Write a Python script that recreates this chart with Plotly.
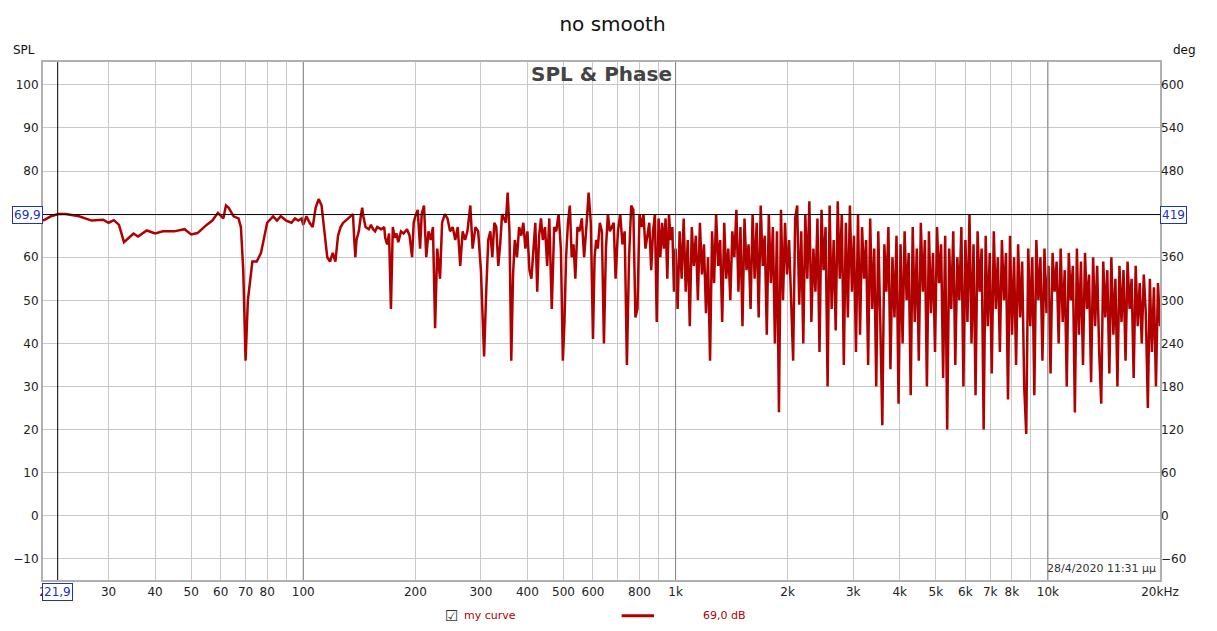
import numpy as np
import plotly.graph_objects as go

# Low/mid frequency part (Hz, dB)
freq_low = [20,21,22,23,25,27,29,30,31,32,33,35,36,38,40,42,45,48,50,52,55,57,59,61,62,63,65,67,68,69,70,71,73,75,77,80,83,85,87,90,93,95,97,99,100,102,104,106,108,110,112,114,116,118,120,122,124,126,128,130,132,134,136,137,138,139,141,143,144,145,147,150,152,154,156,158,162,165,166,168,170,172,174,176,178,180,183,186,190,193,196,198]
spl_low = [68.5,69.5,70,70,69.5,68.5,68.7,68,68.6,67.5,63.5,65.5,64.8,66.2,65.5,66,66,66.5,65.3,65.6,67.5,68.5,70.3,69,72,71.5,69.5,69,67,57,36,50,59,59,61,68,69.5,68.5,69.5,68.5,68,69,68.5,69,67.5,69.5,68,67,71.5,73.5,72,66,60,59,61,59,65,67,68,68.5,69,69.5,70,64.5,60,64,66,70,71.5,69.5,67,66.5,67.5,66.5,66,67,66.5,67,64.5,63,65.5,48,67,64.5,65.5,63.5,66,65.5,66.5,65,60,68]

freq_mid = [200,203,206,208,211,214,217,220,223,226,229,233,236,240,244,248,252,256,260,264,268,272,276,281,285,290,295,300,303,306,310,314,318,322,326,330,334,338,342,346,350,354,358,362,366,370,375,380,385,390,395,400,405,410,415,420,425,430,435,440,446,452,458,465,472,478,485,492,498,503,508,514,520,526,532,538,545,552,560,568,576,584,592,600,606,612,618,626,634,642,650,658,666,674,682,690,700,710,720,730,740,750,760,770,780,790,800,810,820,830,840,850,860,870,880,890,900,910,920,930,940,950,960,970,980,990]
spl_mid = [69.5,71,62,70,72,60,66,64,67,43.5,62,55,68,70,69,66,67,64,67,58,66,64,66,72,62,67,66,57,45,37,52,64,66,60,68,67,58,63,70,69,68,75,66,36,56,64,60,67,65,68,62,66,57,55,62,68,52,65,69,64,67,58,69,48,67,66,70,62,36,45,60,68,72,60,63,55,67,66,69,60,67,75,68,41,60,64,62,68,66,40,62,70,66,67,68,55,66,70,63,66,35,60,72,71,46,48,70,67,70,62,65,68,57,66,70,45,69,60,68,62,69,55,70,64,67,52]

# High frequency part: SPL readings on a log-spaced grid 1 kHz .. 20 kHz
spl_high = [62,48,66,55,69,52,64,44,67,58,
            65,50,68,56,63,47,60,36,66,54,
            70,58,64,45,68,55,62,50,66,60,
            71,52,67,44,69,57,63,48,70,55,
            68,46,72,58,65,42,70,54,67,40,
            66,24,71,50,68,56,64,47,36,69,
            72,49,66,40,70,55,73,45,62,52,
            69,38,71,57,67,30,72,48,64,43,
            73,55,70,35,68,46,72,52,65,38,
            70,42,67,55,64,35,69,48,62,30,
            66,45,21,63,52,67,34,60,46,65,
            26,63,40,66,50,61,28,67,45,62,
            36,68,52,64,30,66,47,61,38,67,
            54,63,32,65,20,62,48,66,35,60,
            50,67,30,64,45,70,40,63,28,66,
            52,62,20,65,44,61,33,66,48,60,
            38,64,50,61,27,65,42,60,35,63,
            46,59,30,19,62,44,60,28,64,50,
            60,36,62,47,58,33,61,52,59,40,
            62,45,57,30,61,50,58,24,62,42,
            59,35,61,48,56,31,60,44,58,38,
            26,59,46,57,33,60,42,55,30,58,
            45,57,36,59,48,55,32,58,44,54,
            40,56,47,25,55,38,53,30,54,44]
freq_high = list(np.geomspace(1000, 20000, len(spl_high)))

freqs = freq_low + freq_mid + freq_high
spl = spl_low + spl_mid + spl_high

cursor_f = 21.9
cursor_spl = 69.9

tick_vals = [20,30,40,50,60,70,80,90,100,200,300,400,500,600,700,800,900,
             1000,2000,3000,4000,5000,6000,7000,8000,9000,10000,20000]
tick_text = ["2","30","40","50","60","70","80","","100","200","300","400","500","600","","800","",
             "1k","2k","3k","4k","5k","6k","7k","8k","","10k","20kHz"]

red = "#b00000"
fig = go.Figure()
fig.add_trace(go.Scatter(x=freqs, y=spl, mode="lines", line=dict(color=red, width=2.5),
                         showlegend=False, hoverinfo="skip"))
fig.add_trace(go.Scatter(x=[100], y=[0], yaxis="y2", mode="markers",
                         marker=dict(opacity=0), showlegend=False, hoverinfo="skip"))

lx = [np.log10(20), np.log10(20000)]
fig.update_layout(
    width=1209, height=623,
    margin=dict(l=35, r=57, t=54, b=51, autoexpand=False),
    paper_bgcolor="white", plot_bgcolor="white",
    font=dict(family="DejaVu Sans", size=12, color="#222"),
    title=dict(text="no smooth", x=0.5, xanchor="center", y=0.975, yanchor="middle",
               font=dict(size=20, color="#111")),
    xaxis=dict(type="log", range=lx, tickvals=tick_vals, ticktext=tick_text,
               showgrid=True, gridcolor="#c8c8c8", gridwidth=1, ticks="",
               showline=True, linecolor="#b0b0b0", linewidth=2, mirror=True,
               tickfont=dict(size=12), zeroline=False),
    yaxis=dict(range=[-14.9, 105.3], tickvals=list(range(-10, 101, 10)),
               showgrid=True, gridcolor="#c8c8c8", ticks="", zeroline=False,
               showline=True, linecolor="#b0b0b0", linewidth=2, mirror=True,
               tickfont=dict(size=12)),
    yaxis2=dict(range=[-14.9*6, 105.3*6], tickvals=list(range(-60, 601, 60)),
                overlaying="y", side="right", showgrid=False, ticks="", zeroline=False,
                tickfont=dict(size=12)),
)
for d in [100, 1000, 10000]:
    fig.add_shape(type="line", xref="x", yref="paper", x0=d, x1=d, y0=0, y1=1,
                  line=dict(color="#808080", width=1))
fig.add_shape(type="line", xref="x", yref="paper", x0=cursor_f, x1=cursor_f, y0=0, y1=1,
              line=dict(color="black", width=1))
fig.add_shape(type="line", xref="paper", yref="y", x0=0, x1=1, y0=cursor_spl, y1=cursor_spl,
              line=dict(color="black", width=1))

box = dict(bordercolor="#2030c0", borderwidth=1, bgcolor="white",
           font=dict(color="#2030c0", size=12), borderpad=1, showarrow=False)
fig.add_annotation(xref="paper", yref="y", x=0, y=cursor_spl, xanchor="right",
                   text="69,9", **box)
fig.add_annotation(xref="paper", yref="y", x=1, y=cursor_spl, xanchor="left",
                   text="419", **box)
fig.add_annotation(xref="x", yref="paper", x=np.log10(cursor_f), y=0, yanchor="top", yshift=-3,
                   text="21,9", **box)

fig.add_annotation(xref="paper", yref="paper", x=0.5, y=1.003, yanchor="top", showarrow=False,
                   text="<b>SPL &amp; Phase</b>", font=dict(size=20, color="#444"))
fig.add_annotation(xref="paper", yref="paper", x=-0.005, y=1.005, xanchor="right", yanchor="bottom",
                   showarrow=False, text="SPL", font=dict(size=12, color="#111"))
fig.add_annotation(xref="paper", yref="paper", x=1.01, y=1.005, xanchor="left", yanchor="bottom",
                   showarrow=False, text="deg", font=dict(size=12, color="#111"))
fig.add_annotation(xref="paper", yref="paper", x=0.998, y=0.005, xanchor="right", yanchor="bottom",
                   showarrow=False, text="28/4/2020 11:31 μμ", font=dict(size=11, color="#333"))
ly = -0.069
fig.add_annotation(xref="paper", yref="paper", x=0.366, y=ly, xanchor="center", yanchor="middle",
                   showarrow=False, text="☑", font=dict(size=15, color="#333"))
fig.add_annotation(xref="paper", yref="paper", x=0.375, y=ly, xanchor="left", yanchor="middle",
                   showarrow=False, text="my curve", font=dict(size=11, color=red))
fig.add_shape(type="line", xref="paper", yref="paper", x0=0.518, x1=0.547, y0=ly, y1=ly,
              line=dict(color=red, width=3))
fig.add_annotation(xref="paper", yref="paper", x=0.589, y=ly, xanchor="left", yanchor="middle",
                   showarrow=False, text="69,0 dB", font=dict(size=11, color=red))

fig.write_html("out.html")
